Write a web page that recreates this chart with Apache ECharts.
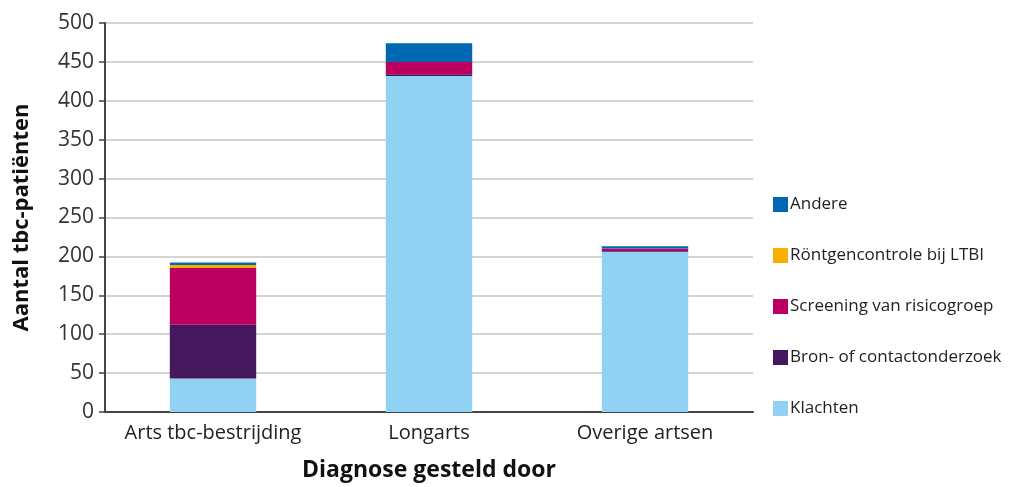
<!DOCTYPE html>
<html><head><meta charset="utf-8">
<script src="https://cdn.jsdelivr.net/npm/echarts@6/dist/echarts.min.js"></script>
<style>html,body{margin:0;padding:0;background:#fff}#c{width:1016px;height:487px}</style>
</head><body><div id="c"></div>
<script>
const categories = ['Arts tbc-bestrijding', 'Longarts', 'Overige artsen'];
const klachten = [43, 432, 206];
const bron = [69, 2, 1];
const screening = [73, 16, 3];
const rontgen = [4, 0, 0];
const andere = [3, 24, 3];
const seriesNames = ['Klachten', 'Bron- of contactonderzoek', 'Screening van risicogroep', 'Röntgencontrole bij LTBI', 'Andere'];
const seriesColors = ['#91d2f4', '#45175d', '#bb0062', '#f7b000', '#0068b3'];
const seriesData = [klachten, bron, screening, rontgen, andere];
const yTicks = { min: 0, max: 500, interval: 50 };

const font = '"Open Sans", "Noto Sans", sans-serif';
const chart = echarts.init(document.getElementById('c'));
chart.setOption({
  animation: false,
  textStyle: { fontFamily: font },
  grid: { left: 105, right: 263, top: 23, bottom: 73, containLabel: false },
  legend: {
    orient: 'vertical', left: 768, top: 191, itemGap: 34, itemWidth: 15, itemHeight: 15,
    icon: 'rect',
    data: seriesNames.slice().reverse(),
    textStyle: { fontSize: 17, color: '#222', fontFamily: font, padding: [0, 0, 0, -3] }
  },
  xAxis: {
    type: 'category', data: categories,
    name: 'Diagnose gesteld door', nameLocation: 'middle', nameGap: 47,
    nameTextStyle: { fontSize: 23, fontWeight: 'bold', color: '#111', fontFamily: font },
    axisLine: { lineStyle: { color: '#444', width: 2 } },
    axisTick: { show: false },
    axisLabel: { interval: 0, fontSize: 20, color: '#222', margin: 11, fontFamily: font }
  },
  yAxis: {
    type: 'value', min: yTicks.min, max: yTicks.max, interval: yTicks.interval,
    name: 'Aantal tbc-patiënten', nameLocation: 'middle', nameGap: 72,
    nameTextStyle: { fontSize: 22, fontWeight: 'bold', color: '#111', fontFamily: font },
    axisLine: { show: true, lineStyle: { color: '#444', width: 2 } },
    axisTick: { show: true, length: 6, lineStyle: { color: '#444', width: 1.5 } },
    axisLabel: { fontSize: 21, color: '#333', margin: 11, fontFamily: font },
    splitLine: { lineStyle: { color: '#d4d4d4', width: 2 } }
  },
  series: seriesNames.map((n, i) => ({
    name: n, type: 'bar', stack: 'total', barWidth: '40%',
    itemStyle: { color: seriesColors[i] },
    data: seriesData[i]
  }))
});
</script></body></html>
